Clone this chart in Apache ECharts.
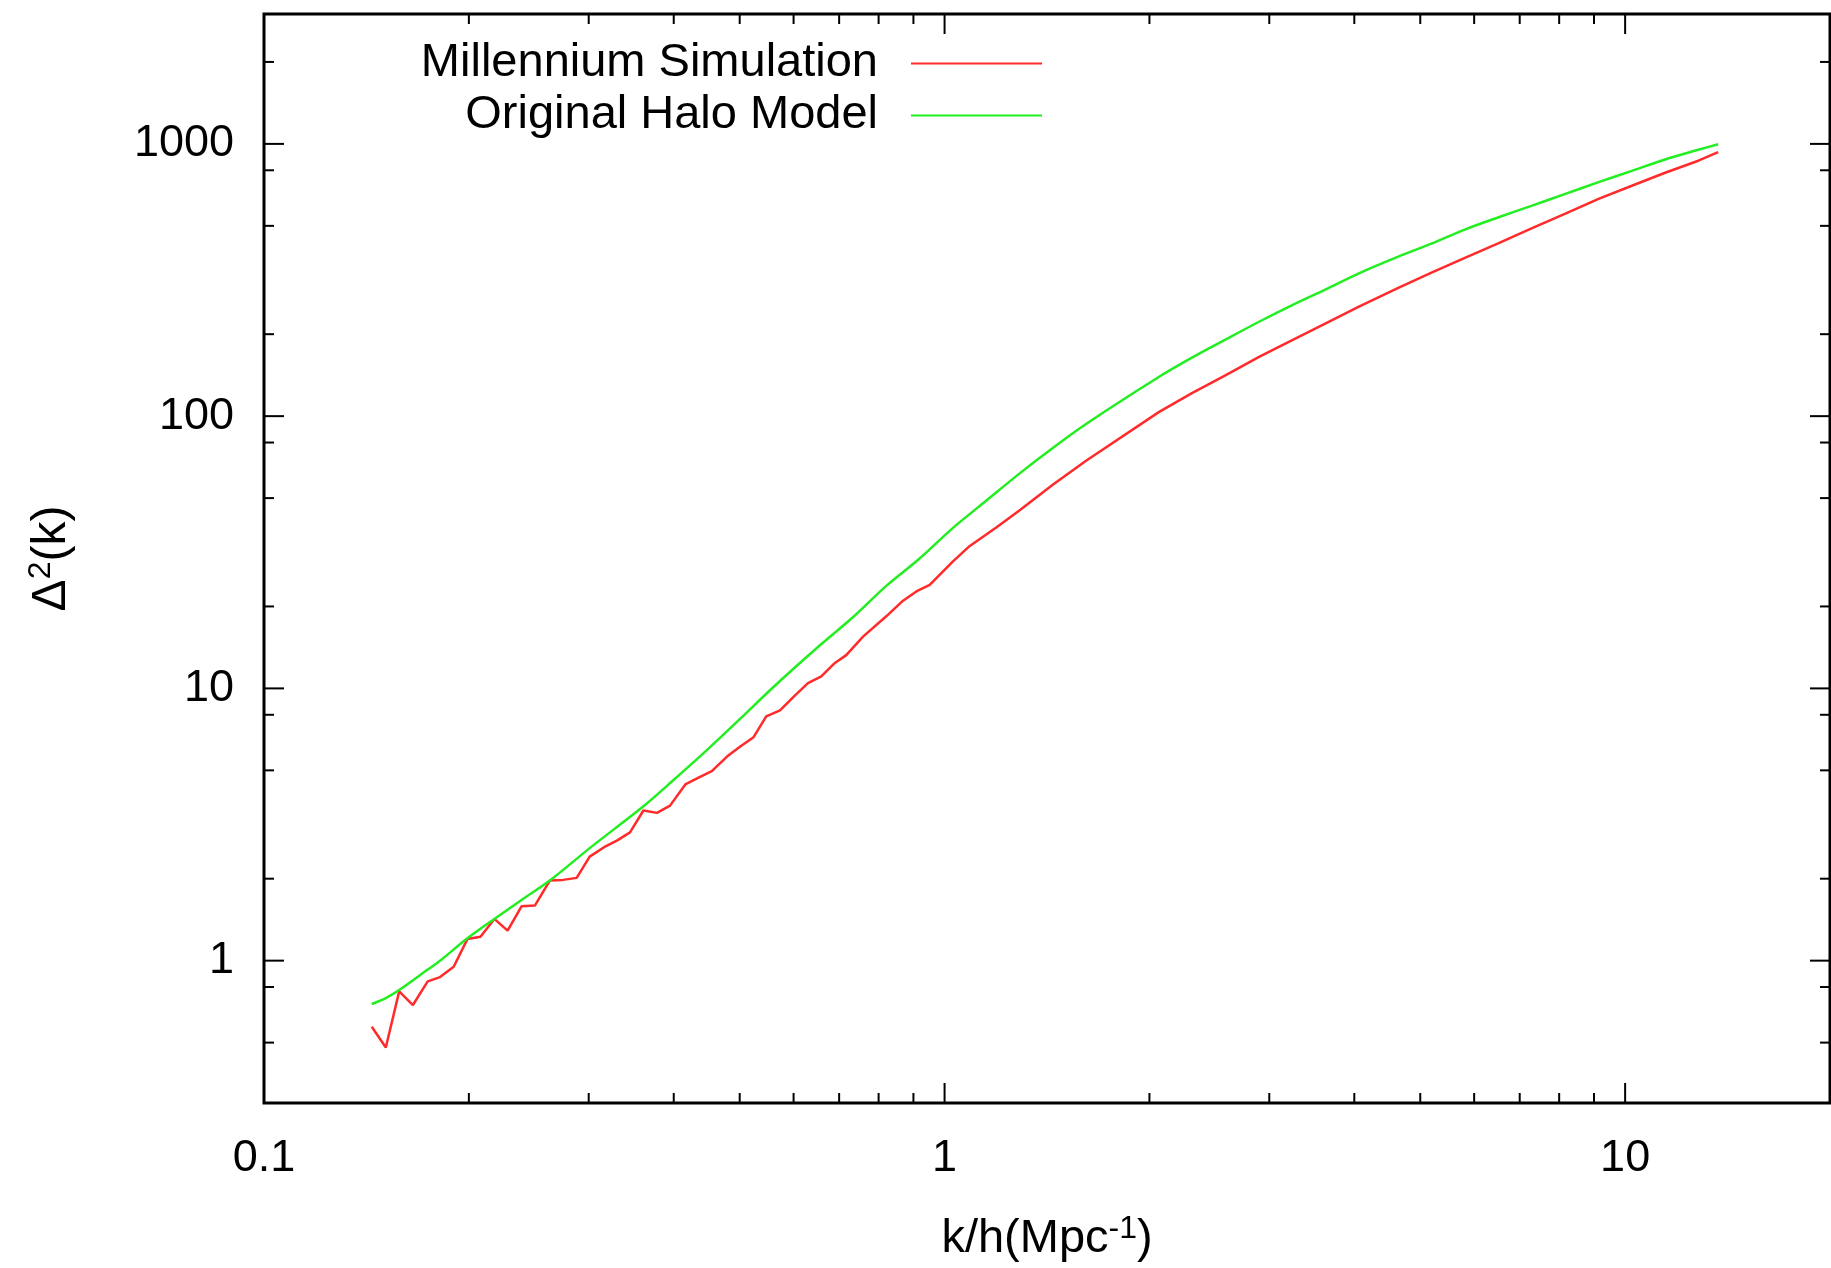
<!DOCTYPE html>
<html>
<head>
<meta charset="utf-8">
<title>Δ²(k) power spectrum</title>
<script src="https://cdn.jsdelivr.net/npm/echarts@6/dist/echarts.min.js"></script>
<style>
  html, body { margin: 0; padding: 0; background: #fff; }
  #chart { width: 1831px; height: 1268px; }
</style>
</head>
<body>
<div id="chart"></div>
<script>
// Series names (legend order)
const seriesNames = ['Millennium Simulation', 'Original Halo Model'];

// Millennium Simulation: k [h/Mpc] and Δ²(k)
const kMillennium = [
  0.144, 0.151, 0.158, 0.1655, 0.174, 0.181, 0.190, 0.199, 0.208, 0.218,
  0.228, 0.239, 0.250, 0.263, 0.275, 0.288, 0.301, 0.316, 0.330, 0.345,
  0.361, 0.378, 0.395, 0.416, 0.435, 0.455, 0.479, 0.501, 0.524, 0.547,
  0.573, 0.603, 0.630, 0.659, 0.690, 0.717, 0.759, 0.821, 0.869, 0.909,
  0.951, 1.028, 1.088, 1.191, 1.288, 1.442, 1.614, 2.067, 2.313, 2.590,
  2.898, 3.243, 3.631, 4.063, 4.65, 5.204, 5.826, 6.52, 7.30, 8.17,
  9.14, 10.23, 11.45, 12.81, 13.7
];
const deltaMillennium = [
  0.572, 0.480, 0.771, 0.687, 0.839, 0.868, 0.950, 1.20, 1.225, 1.423,
  1.289, 1.583, 1.593, 1.968, 1.98, 2.014, 2.41, 2.61, 2.76, 2.96,
  3.56, 3.49, 3.71, 4.44, 4.70, 4.97, 5.62, 6.12, 6.62, 7.89,
  8.30, 9.43, 10.46, 11.07, 12.4, 13.25, 15.5, 18.4, 21.0, 22.7,
  24.0, 29.2, 33.3, 39.0, 45.0, 56.0, 68.6, 103.7, 121.8, 141.5,
  165.2, 190.2, 219.1, 252.3, 296.3, 337.5, 382.5, 432.4, 490.1, 554.6,
  627.8, 701.7, 783.3, 867.4, 932
];

// Original Halo Model: k [h/Mpc] and Δ²(k)
const kHalo = [
  0.144, 0.151, 0.158, 0.174, 0.182, 0.199, 0.218, 0.239, 0.263, 0.301,
  0.361, 0.399, 0.447, 0.501, 0.560, 0.656, 0.734, 0.821, 0.919, 1.028,
  1.151, 1.288, 1.442, 1.614, 2.067, 2.313, 2.590, 2.898, 3.243, 3.631,
  4.063, 4.65, 5.204, 5.826, 6.52, 7.30, 8.17, 9.14, 10.23, 11.45,
  12.81, 13.7
];
const deltaHalo = [
  0.693, 0.729, 0.780, 0.927, 1.006, 1.208, 1.423, 1.671, 1.968, 2.59,
  3.69, 4.59, 5.92, 7.74, 10.1, 14.4, 18.3, 23.8, 30.0, 38.8,
  48.9, 61.5, 76.4, 93.6, 139.5, 164.3, 191.4, 222.2, 255.8, 292.2,
  334.6, 386.2, 431.2, 485.6, 537.8, 593.6, 655.4, 723.7, 796.4, 876.7,
  951.5, 997
];

// Axis ticks and labels
const xMajorTicks = [0.1, 1, 10];
const xTickLabels = ['0.1', '1', '10'];
const xMinorTicks = [0.2, 0.3, 0.4, 0.5, 0.6, 0.7, 0.8, 0.9, 2, 3, 4, 5, 6, 7, 8, 9];
const yMajorTicks = [1, 10, 100, 1000];
const yTickLabels = ['1', '10', '100', '1000'];
const yMinorTicks = [0.5, 0.8, 2, 5, 8, 20, 50, 80, 200, 500, 800, 2000];

const X_MIN = 0.1, X_MAX = 20;
const Y_MIN = 0.3, Y_MAX = 3000;

const FONT = '"Liberation Sans", Arial, Helvetica, sans-serif';
const FONT_SIZE = 45;
const TITLE_SIZE = 47;

function zip(xs, ys) { return xs.map((x, i) => [x, ys[i]]); }

function labelFor(ticks, labels) {
  return function (val) {
    const i = ticks.findIndex(t => Math.abs(Math.log10(t) - Math.log10(val)) < 1e-6);
    return i >= 0 ? labels[i] : '';
  };
}

// Inward tick marks mirrored on both sides of the frame
function tickSeries(values, axis, len) {
  return {
    type: 'custom',
    silent: true,
    clip: false,
    z: 5,
    data: values.map(v => axis === 'x' ? [v, Y_MIN] : [X_MIN, v]),
    renderItem: function (params, api) {
      const cs = params.coordSys;
      const p = api.coord([api.value(0), api.value(1)]);
      const style = { stroke: '#000', lineWidth: 2 };
      if (axis === 'x') {
        const top = cs.y, bottom = cs.y + cs.height;
        return {
          type: 'group',
          children: [
            { type: 'line', shape: { x1: p[0], y1: bottom, x2: p[0], y2: bottom - len }, style: style },
            { type: 'line', shape: { x1: p[0], y1: top, x2: p[0], y2: top + len }, style: style }
          ]
        };
      }
      const left = cs.x, right = cs.x + cs.width;
      return {
        type: 'group',
        children: [
          { type: 'line', shape: { x1: left, y1: p[1], x2: left + len, y2: p[1] }, style: style },
          { type: 'line', shape: { x1: right, y1: p[1], x2: right - len, y2: p[1] }, style: style }
        ]
      };
    }
  };
}

const titleRich = {
  n: { fontFamily: FONT, fontSize: TITLE_SIZE, lineHeight: 52, color: '#000' },
  s: { fontFamily: FONT, fontSize: 32, lineHeight: 32, verticalAlign: 'top', color: '#000' }
};

const chart = echarts.init(document.getElementById('chart'), null, { renderer: 'canvas' });

chart.setOption({
  animation: false,
  backgroundColor: '#fff',
  textStyle: { fontFamily: FONT },
  grid: {
    left: 264, right: 1, top: 14, bottom: 165,
    show: true, borderColor: '#000', borderWidth: 3, backgroundColor: 'transparent'
  },
  legend: {
    data: seriesNames,
    orient: 'vertical',
    align: 'right',
    right: 789,
    top: 40,
    padding: 0,
    itemGap: 5,
    itemWidth: 131,
    itemHeight: 2,
    icon: 'rect',
    selectedMode: false,
    textStyle: {
      color: '#000', fontFamily: FONT, fontSize: TITLE_SIZE, lineHeight: 47,
      padding: [0, 28, 0, 0]
    }
  },
  xAxis: {
    type: 'log',
    logBase: 10,
    min: X_MIN,
    max: X_MAX,
    axisLine: { show: false },
    axisTick: { show: false },
    splitLine: { show: false },
    minorTick: { show: false },
    axisLabel: {
      color: '#000', fontFamily: FONT, fontSize: FONT_SIZE, lineHeight: 45, margin: 33,
      showMinLabel: true, showMaxLabel: false,
      formatter: labelFor(xMajorTicks, xTickLabels)
    },
    name: '{n|k/h(Mpc}{s|-1}{n|)}',
    nameLocation: 'middle',
    nameGap: 110,
    nameMoveOverlap: false,
    nameTextStyle: { color: '#000', fontFamily: FONT, fontSize: TITLE_SIZE, rich: titleRich }
  },
  yAxis: {
    type: 'log',
    logBase: 10,
    min: Y_MIN,
    max: Y_MAX,
    axisLine: { show: false },
    axisTick: { show: false },
    splitLine: { show: false },
    minorTick: { show: false },
    axisLabel: {
      color: '#000', fontFamily: FONT, fontSize: FONT_SIZE, lineHeight: 45, margin: 30,
      padding: [5, 0, 0, 0],
      showMinLabel: false, showMaxLabel: false,
      formatter: labelFor(yMajorTicks, yTickLabels)
    },
    name: '{n|Δ}{s|2}{n|(k)}',
    nameLocation: 'middle',
    nameRotate: 90,
    nameGap: 185,
    nameMoveOverlap: false,
    nameTextStyle: {
      color: '#000', fontFamily: FONT, fontSize: 48,
      rich: {
        n: { fontFamily: FONT, fontSize: 48, lineHeight: 54, color: '#000' },
        s: { fontFamily: FONT, fontSize: 32, lineHeight: 32, verticalAlign: 'top', color: '#000' }
      }
    }
  },
  series: [
    {
      name: seriesNames[0],
      type: 'line',
      data: zip(kMillennium, deltaMillennium),
      showSymbol: false,
      symbol: 'none',
      color: '#ff2a2a',
      lineStyle: { color: '#ff2a2a', width: 2.5 },
      z: 3
    },
    {
      name: seriesNames[1],
      type: 'line',
      data: zip(kHalo, deltaHalo),
      showSymbol: false,
      symbol: 'none',
      smooth: 0.3,
      color: '#22ee22',
      lineStyle: { color: '#22ee22', width: 2.5 },
      z: 3
    },
    tickSeries(xMajorTicks, 'x', 20),
    tickSeries(xMinorTicks, 'x', 10),
    tickSeries(yMajorTicks, 'y', 20),
    tickSeries(yMinorTicks, 'y', 10)
  ]
});
</script>
</body>
</html>
